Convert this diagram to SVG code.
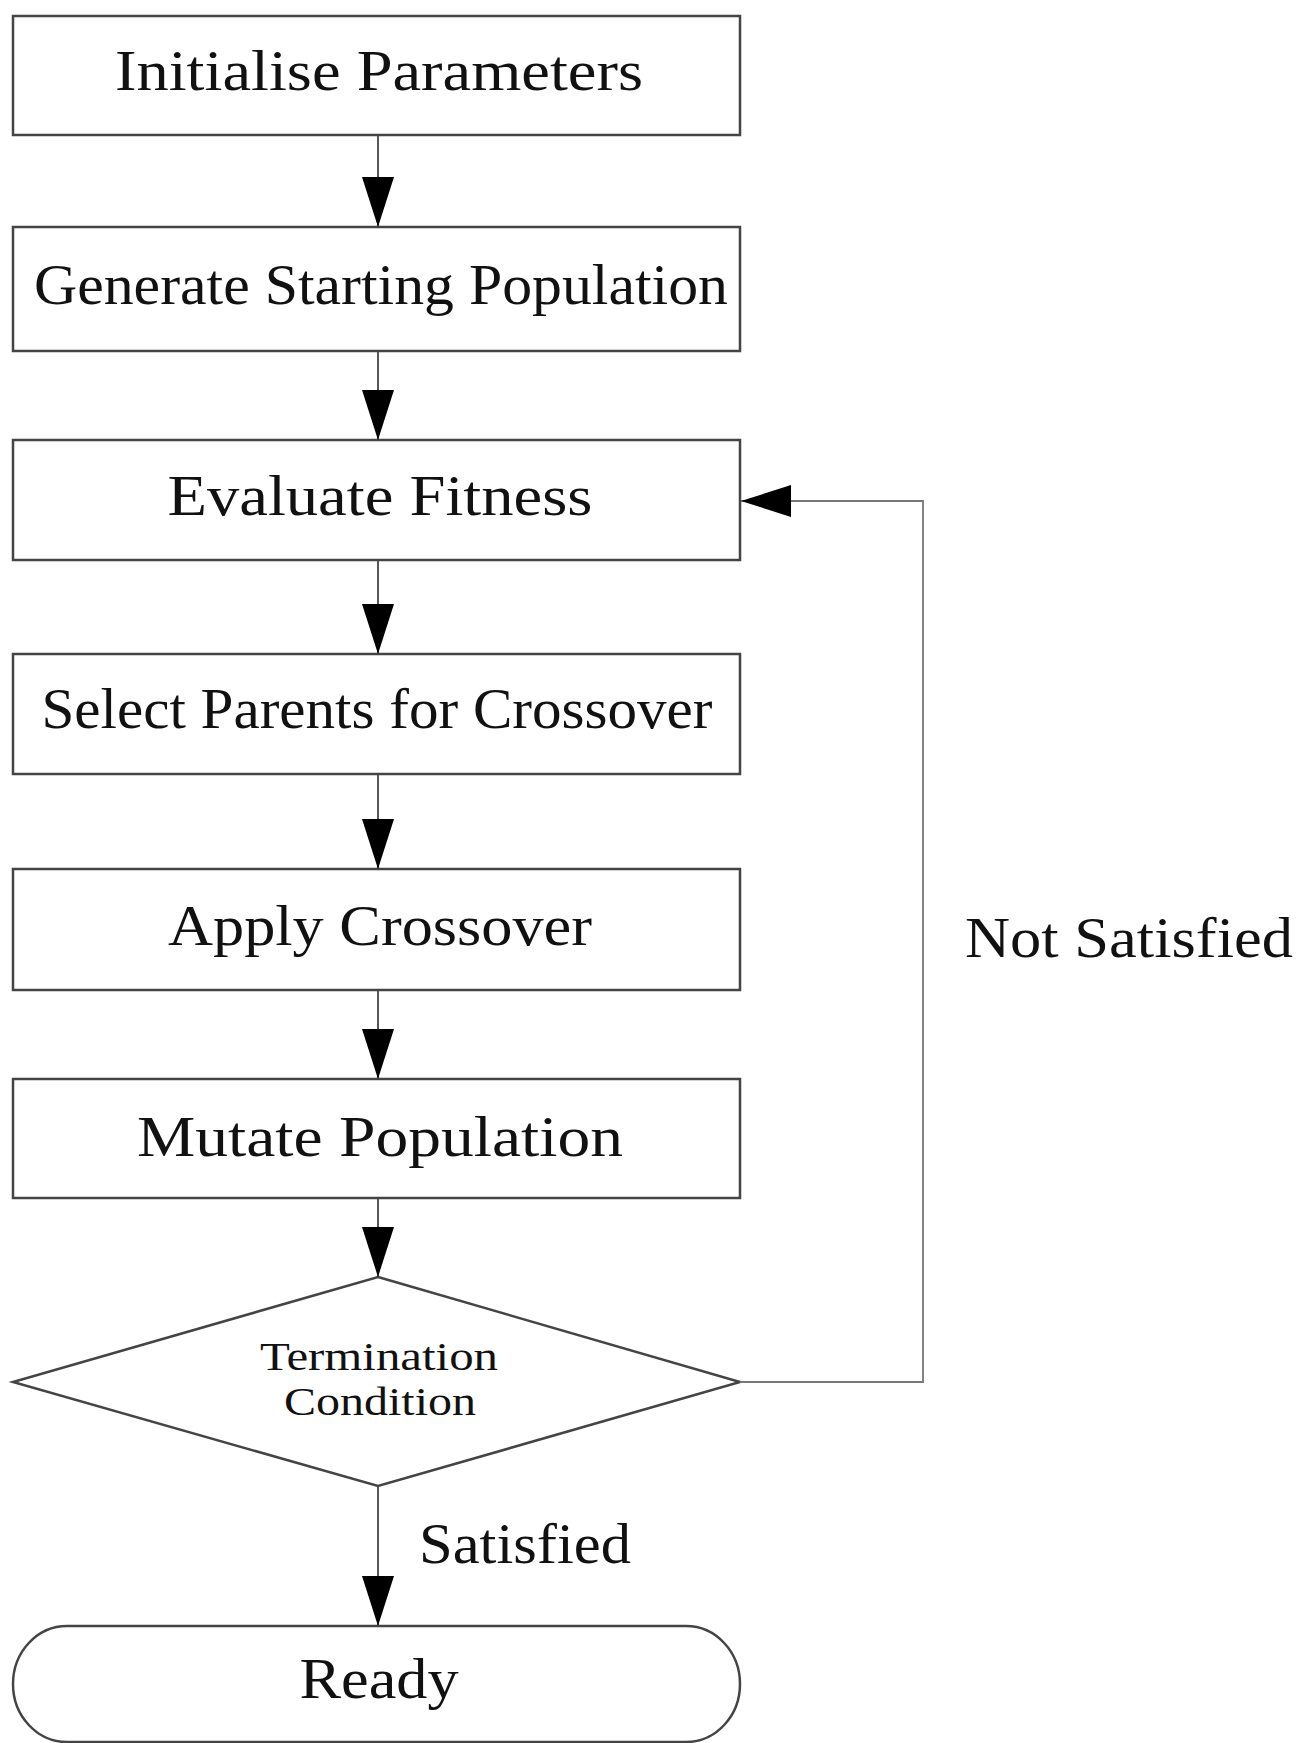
<svg xmlns="http://www.w3.org/2000/svg" width="1302" height="1743" viewBox="0 0 1302 1743">
<style>
.box{fill:#fff;stroke:#444;stroke-width:2.5}
.t{font-family:"Liberation Serif","DejaVu Serif",serif;font-size:58px;fill:#111;text-anchor:middle}
.s{font-size:41px}
.c{fill:none;stroke:#444;stroke-width:1.8}
.loop{fill:none;stroke:#777;stroke-width:1.8}
</style>
<defs>
<marker id="ah" viewBox="0 0 50 32" refX="50" refY="16" markerWidth="50" markerHeight="32" markerUnits="userSpaceOnUse" orient="auto">
<path d="M0,0 L50,16 L0,32 z" fill="#000"/>
</marker>
</defs>
<rect width="1302" height="1743" fill="#fff"/>
<g id="n1"><rect class="box" x="13" y="16" width="727" height="119"/><text class="t" x="379" y="90" textLength="528" lengthAdjust="spacingAndGlyphs">Initialise Parameters</text></g>
<g id="n2"><rect class="box" x="13" y="227" width="727" height="124"/><text class="t" x="381" y="304" textLength="694" lengthAdjust="spacingAndGlyphs">Generate Starting Population</text></g>
<g id="n3"><rect class="box" x="13" y="440" width="727" height="120"/><text class="t" x="380" y="515" textLength="425" lengthAdjust="spacingAndGlyphs">Evaluate Fitness</text></g>
<g id="n4"><rect class="box" x="13" y="654" width="727" height="120"/><text class="t" x="377" y="728" textLength="671" lengthAdjust="spacingAndGlyphs">Select Parents for Crossover</text></g>
<g id="n5"><rect class="box" x="13" y="869" width="727" height="121"/><text class="t" x="380" y="945" textLength="424" lengthAdjust="spacingAndGlyphs">Apply Crossover</text></g>
<g id="n6"><rect class="box" x="13" y="1079" width="727" height="119"/><text class="t" x="380" y="1156" textLength="486" lengthAdjust="spacingAndGlyphs">Mutate Population</text></g>
<g id="n7"><polygon class="box" points="378,1277 740,1382 378,1486 13,1382"/><text class="t s" x="379" y="1370" textLength="238" lengthAdjust="spacingAndGlyphs">Termination</text><text class="t s" x="380" y="1415" textLength="192" lengthAdjust="spacingAndGlyphs">Condition</text></g>
<g id="n8"><path class="box" d="M67,1626 L686,1626 A54,58 0 0 1 686,1742 L67,1742 A54,58 0 0 1 67,1626 Z"/><text class="t" x="379" y="1698" textLength="159" lengthAdjust="spacingAndGlyphs">Ready</text></g>
<g id="connectors">
<line class="c" x1="378" y1="135" x2="378" y2="227" marker-end="url(#ah)"/>
<line class="c" x1="378" y1="351" x2="378" y2="440" marker-end="url(#ah)"/>
<line class="c" x1="378" y1="560" x2="378" y2="654" marker-end="url(#ah)"/>
<line class="c" x1="378" y1="774" x2="378" y2="869" marker-end="url(#ah)"/>
<line class="c" x1="378" y1="990" x2="378" y2="1079" marker-end="url(#ah)"/>
<line class="c" x1="378" y1="1198" x2="378" y2="1277" marker-end="url(#ah)"/>
<line class="c" x1="378" y1="1486" x2="378" y2="1626" marker-end="url(#ah)"/>
<polyline class="loop" points="740,1382 923,1382 923,501 741,501" marker-end="url(#ah)"/>
<text class="t" x="525" y="1563" textLength="212" lengthAdjust="spacingAndGlyphs">Satisfied</text>
<text class="t" x="1129" y="957" textLength="328" lengthAdjust="spacingAndGlyphs">Not Satisfied</text>
</g>
</svg>
